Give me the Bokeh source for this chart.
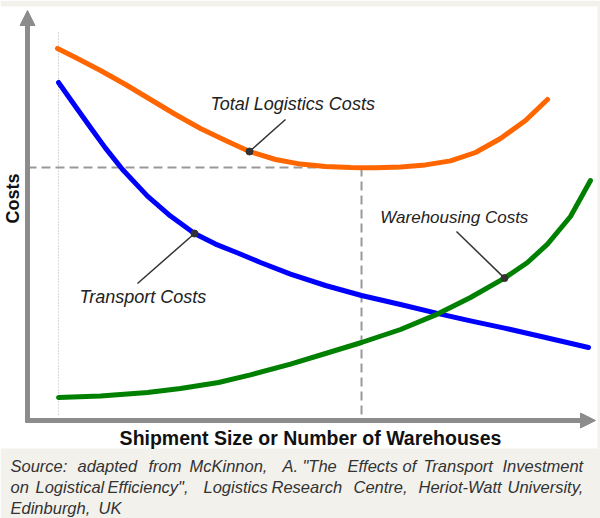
from bokeh.plotting import figure
from bokeh.models import Range1d, BoxAnnotation, Label, Arrow, NormalHead
from bokeh.embed import file_html
from bokeh.resources import INLINE
import math

# ---- data (arbitrary cost units vs shipment size / number of warehouses) ----
x_total = [5.26, 8.42, 12.81, 17.19, 21.58, 25.96, 30.35, 34.74, 38.95, 43.51, 47.89,
           52.28, 56.67, 58.77, 61.05, 65.44, 69.82, 74.21, 78.6, 82.98, 87.37, 91.23]
y_total = [93.0, 90.75, 87.5, 84.0, 80.25, 76.5, 73.0, 70.0, 67.25, 65.25, 64.1,
           63.5, 63.25, 63.2, 63.2, 63.4, 63.9, 64.9, 67.0, 70.5, 75.0, 80.25]

x_transport = [5.44, 8.42, 11.05, 13.68, 16.67, 21.05, 25.09, 29.3, 32.98, 36.67, 40.88,
               46.14, 52.28, 58.6, 65.44, 72.46, 77.72, 83.68, 90.88, 98.42]
y_transport = [84.5, 78.5, 73.25, 68.1, 62.75, 56.1, 51.1, 46.75, 44.1, 42.0, 39.5,
               36.6, 33.75, 31.25, 29.0, 26.6, 24.9, 23.1, 20.75, 18.25]

x_warehousing = [5.44, 12.81, 21.05, 26.84, 33.51, 39.12, 46.14, 52.28, 58.6, 65.44,
                 71.93, 77.72, 83.68, 87.72, 91.23, 95.26, 98.77]
y_warehousing = [5.75, 6.1, 7.0, 8.0, 9.5, 11.4, 14.1, 16.75, 19.5, 22.75,
                 26.6, 30.75, 35.6, 39.5, 44.1, 51.0, 60.0]

x_opt = 58.6      # optimum shipment size
y_opt = 63.25     # minimum total cost
x_start = 5.44    # start of the curves

curve_names = ["Total Logistics Costs", "Transport Costs", "Warehousing Costs"]
callout_x = [38.95, 29.3, 83.68]       # points on the curves
callout_y = [67.25, 46.75, 35.6]
callout_end_x = [45.26, 19.3, 75.26]
callout_end_y = [75.25, 34.25, 47.25]
label_x = [32.1, 9.12, 61.9]
label_y = [79.25, 31.0, 50.75]
label_size = ["18px", "18px", "17px"]

y_title = "Costs"
x_title = "Shipment Size or Number of Warehouses"
caption_lines = [
    ["Source:", "adapted", "from", "McKinnon,", "A.", "\"The", "Effects", "of", "Transport", "Investment"],
    ["on", "Logistical", "Efficiency\",", "Logistics", "Research", "Centre,", "Heriot-Watt", "University,"],
    ["Edinburgh,", "UK"],
]
caption_word_px = [
    [10, 77, 148, 189, 282, 302, 347, 402, 423, 502],
    [10, 35, 107, 203, 271, 353, 418, 507],
    [10, 98],
]

# ---- figure geometry: frame covers the whole canvas ----
W, H = 600, 518
ox, oy = 27, 420          # axis origin in pixels
sx, sy = 5.7, 4.0         # pixels per data unit

def dx(px):
    return (px - ox) / sx

def dy(py):
    return (oy - py) / sy

p = figure(width=W, height=H, output_backend="svg", toolbar_location=None,
           x_range=Range1d(dx(0), dx(W)), y_range=Range1d(dy(H), dy(0)),
           min_border=0, tools="")
p.axis.visible = False
p.grid.visible = False
p.outline_line_color = None
p.background_fill_color = "white"
p.border_fill_color = "white"

GREY_BG = "#f2f1ec"
p.add_layout(BoxAnnotation(top=dy(448), fill_color=GREY_BG, fill_alpha=1, line_alpha=0, level="underlay"))
p.add_layout(BoxAnnotation(bottom=dy(6), fill_color=GREY_BG, fill_alpha=1, line_alpha=0, level="underlay"))
p.add_layout(BoxAnnotation(left=dx(597), top=dy(6), bottom=dy(448), fill_color=GREY_BG, fill_alpha=1, line_alpha=0, level="underlay"))

# reference lines
p.line([x_start, x_start], [dy(32), dy(415)], line_color="#b0b0b0", line_width=1, line_dash="1 2")
p.line([0, x_opt], [y_opt, y_opt], line_color="#999999", line_width=2, line_dash="9 5")
p.line([x_opt, x_opt], [y_opt, dy(415)], line_color="#999999", line_width=2, line_dash="9 5")

# axes as arrows
AX = "#8c8c8c"
p.add_layout(Arrow(x_start=0, y_start=dy(422), x_end=0, y_end=dy(10), line_color=AX, line_width=5,
                   end=NormalHead(size=15, fill_color=AX, line_color=AX)))
p.add_layout(Arrow(x_start=dx(25), y_start=0, x_end=dx(595), y_end=0, line_color=AX, line_width=5,
                   end=NormalHead(size=15, fill_color=AX, line_color=AX)))

# curves
p.line(x_total, y_total, line_color="#ff6600", line_width=5, line_cap="round", line_join="round")
p.line(x_transport, y_transport, line_color="#0000ff", line_width=5, line_cap="round", line_join="round")
p.line(x_warehousing, y_warehousing, line_color="#008000", line_width=5, line_cap="round", line_join="round")

# call-outs
for i in range(3):
    p.line([callout_x[i], callout_end_x[i]], [callout_y[i], callout_end_y[i]], line_color="#333333", line_width=1.5)
p.scatter(callout_x, callout_y, size=7, fill_color="#333333", line_color="#333333")
for i, name in enumerate(curve_names):
    p.add_layout(Label(x=label_x[i], y=label_y[i], text=name, text_font="Liberation Sans",
                       text_font_style="italic", text_font_size=label_size[i], text_color="#222222",
                       text_baseline="alphabetic", text_align="left"))

# axis titles
p.add_layout(Label(x=dx(12), y=dy(198), text=y_title, angle=math.pi / 2, text_font="Liberation Sans",
                   text_font_style="bold", text_font_size="18px", text_color="#111111",
                   text_align="center", text_baseline="alphabetic"))
p.add_layout(Label(x=dx(310), y=dy(437), text=x_title, text_font="Liberation Sans",
                   text_font_style="bold", text_font_size="19.5px", text_color="#111111",
                   text_align="center", text_baseline="alphabetic"))

# caption
baselines = [465, 486, 507]
for line, xs, b in zip(caption_lines, caption_word_px, baselines):
    for word, xp in zip(line, xs):
        p.add_layout(Label(x=dx(xp), y=dy(b), text=word, text_font="Liberation Sans",
                           text_font_style="italic", text_font_size="16.5px", text_color="#333333",
                           text_baseline="alphabetic", text_align="left"))

open("out.html", "w").write(file_html(p, INLINE))
